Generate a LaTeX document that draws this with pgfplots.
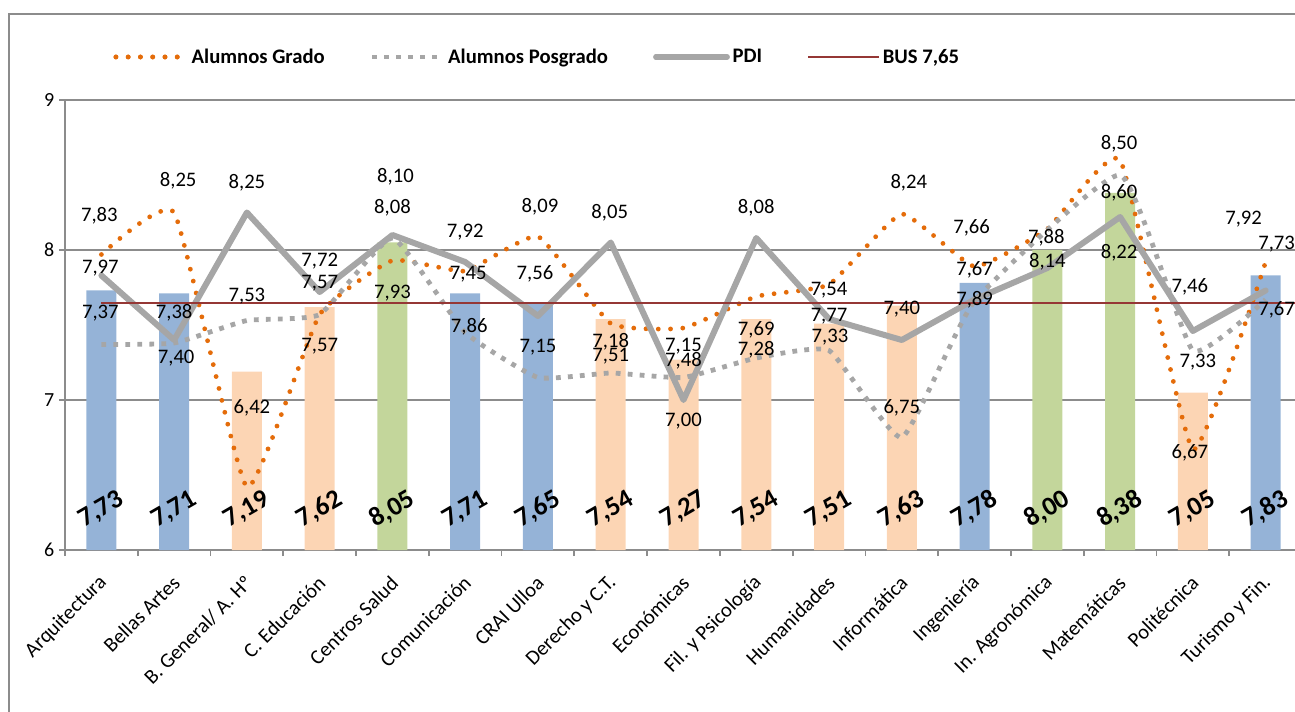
\documentclass[border=0pt]{standalone}
\usepackage{pgfplots}
\pgfplotsset{compat=1.18}
\usepackage{pgfplotstable}
\usepackage{fontspec}
\setmainfont{Carlito}

\definecolor{barblue}{HTML}{95B3D7}
\definecolor{barpeach}{HTML}{FCD5B4}
\definecolor{bargreen}{HTML}{C3D69B}
\definecolor{gradoorange}{HTML}{E46C0A}
\definecolor{linegray}{HTML}{A6A6A6}
\definecolor{busred}{HTML}{953735}
\definecolor{gridgray}{HTML}{8C8C8C}

% Overall score per centre, one table per colour group
\pgfplotstableread{
x y
0 7.73
1 7.71
5 7.71
6 7.65
12 7.78
16 7.83
}\barsblue
\pgfplotstableread{
x y
2 7.19
3 7.62
7 7.54
8 7.27
9 7.54
10 7.51
11 7.63
15 7.05
}\barspeach
\pgfplotstableread{
x y
4 8.05
13 8.00
14 8.38
}\barsgreen

% Line series; dx / ly = offset of the value label (px, right / up)
\pgfplotstableread{
x y dx ly
0 7.97 -1 -14
1 8.25 4 32
2 6.42 5 79
3 7.57 0 -32
4 7.93 0 -33
5 7.86 4 -56
6 8.09 2 30
7 7.51 0 -33
8 7.48 0 -33
9 7.69 0 -33
10 7.77 0 -32
11 8.24 7 31
12 7.89 0 -33
13 8.14 0 -33
14 8.60 -1 -33
15 6.67 -3 -3
16 7.92 -22 43
}\grado
\pgfplotstableread{
x y dx ly
0 7.37 -1 31
1 7.38 0 30
2 7.53 0 24
3 7.57 0 31
4 8.08 0 30
5 7.45 3 58
6 7.15 0 30
7 7.18 0 31
8 7.15 0 31
9 7.28 0 8
10 7.33 1 13
11 6.75 0 30
12 7.66 -3 73
14 8.50 -1 31
15 7.33 5 -12
16 7.67 11 -10
}\posgrado
\pgfplotstableread{
x y dx ly
0 7.83 -2 60
1 7.40 2 -18
2 8.25 0 30
3 7.72 0 31
4 8.10 3 58
5 7.92 0 30
6 7.56 -3 42
7 8.05 -1 30
8 7.00 0 -21
9 8.08 0 30
10 7.54 0 29
11 7.40 0 31
12 7.67 0 30
13 7.88 -1 30
14 8.22 -1 -36
15 7.46 -3 44
16 7.73 11 46
}\pdi

\newcommand\lblfont{\fontsize{15.5}{18}\selectfont}

\pgfplotsset{
  commanum/.style={nodes near coords={\pgfmathprintnumber[fixed,fixed zerofill,precision=2,use comma,assume math mode=true]{\pgfplotspointmeta}}},
  vallabels/.style={
    draw=none, mark=none, forget plot, point meta=y, commanum,
    visualization depends on={\thisrow{dx} \as \ldx},
    visualization depends on={\thisrow{ly} \as \lly},
    every node near coord/.append style={anchor=center, text=black, font=\lblfont,
      inner sep=0pt, xshift={\ldx*0.75pt}, yshift={\lly*0.75pt}},
  },
  bars/.style={
    ybar, bar width=22.5pt, draw=none, fill=#1, forget plot, point meta=y, commanum,
    visualization depends on={\thisrow{y} \as \bv},
    every node near coord/.append style={anchor=center, text=black,
      font=\fontsize{20}{22}\selectfont\bfseries, inner sep=0pt,
      yshift={(6.27-\bv)*112.5pt}, rotate=30},
  },
}

\begin{document}
\begin{tikzpicture}
\useasboundingbox (0,0) rectangle (971.25pt,533.25pt);
\begin{scope}
\clip (0,0) rectangle (971.25pt,533.25pt);
\draw[gridgray, line width=1.4pt] (7pt,-20pt) rectangle (1000pt,523pt);
\begin{axis}[
  at={(48.75pt,120.75pt)}, anchor=south west,
  scale only axis, width=927.75pt, height=337.5pt,
  xmin=-0.5, xmax=16.5, ymin=6, ymax=9,
  axis x line*=bottom, axis y line*=left,
  axis line style={-, draw=gridgray, line width=1.3pt},
  ytick={6,7,8,9},
  ymajorgrids, major grid style={draw=gridgray, line width=1.3pt},
  xtick={0,...,16},
  xticklabels={Arquitectura, Bellas Artes, B. General/ A. Hº, C. Educación, Centros Salud, Comunicación, CRAI Ulloa, Derecho y C.T., Económicas, Fil. y Psicología, Humanidades, Informática, Ingeniería, In. Agronómica, Matemáticas, Politécnica, Turismo y Fin.},
  minor xtick={-0.5,0.5,...,16.5},
  tick align=outside,
  major tick length=4.5pt, minor tick length=4.5pt,
  tick style={draw=gridgray, line width=1.3pt},
  major x tick style={draw opacity=0},
  /pgf/number format/assume math mode=true,
  yticklabel style={font=\fontsize{15}{17}\selectfont},
  xticklabel style={font=\fontsize{15.5}{18}\selectfont, rotate=45, anchor=east,
    xshift=-7.9pt, yshift=-13.6pt},
  legend columns=4,
  legend cell align=left,
  legend style={at={(0.039,1.0956)}, anchor=west, draw=none, fill=none, inner sep=0pt,
    font=\fontsize{15.5}{18}\selectfont\bfseries,
    /tikz/every even column/.append style={column sep=32pt}},
  legend image code/.code={\draw[#1] (0pt,0pt) -- (47pt,0pt); \path (0pt,0pt) -- (53pt,0pt);},
]
% bars, coloured by group
\addplot[bars=barblue] table[x=x,y=y] {\barsblue};
\addplot[bars=barpeach] table[x=x,y=y] {\barspeach};
\addplot[bars=bargreen] table[x=x,y=y] {\barsgreen};

% survey lines
\addplot[gradoorange, smooth, tension=0.25, mark=none, line width=3.6pt, line cap=round,
  dash pattern=on 0pt off 9.2pt] table[x=x,y=y] {\grado};
\addlegendentry{Alumnos Grado}
\addplot[linegray, smooth, tension=0.25, mark=none, line width=3.6pt,
  dash pattern=on 3.6pt off 5.4pt] table[x=x,y=y] {\posgrado};
\addlegendentry{Alumnos Posgrado}
\addplot[linegray, sharp plot, mark=none, line width=4.5pt, line join=round, line cap=round]
  table[x=x,y=y] {\pdi};
\addlegendentry{PDI}
\addplot[busred, mark=none, line width=1.5pt] coordinates {(0,7.65) (16.5,7.65)};
\addlegendentry{BUS 7,65}

% value labels on top of the lines
\addplot[vallabels] table[x=x,y=y] {\grado};
\addplot[vallabels] table[x=x,y=y] {\posgrado};
\addplot[vallabels] table[x=x,y=y] {\pdi};
\end{axis}
\end{scope}
\end{tikzpicture}
\end{document}
